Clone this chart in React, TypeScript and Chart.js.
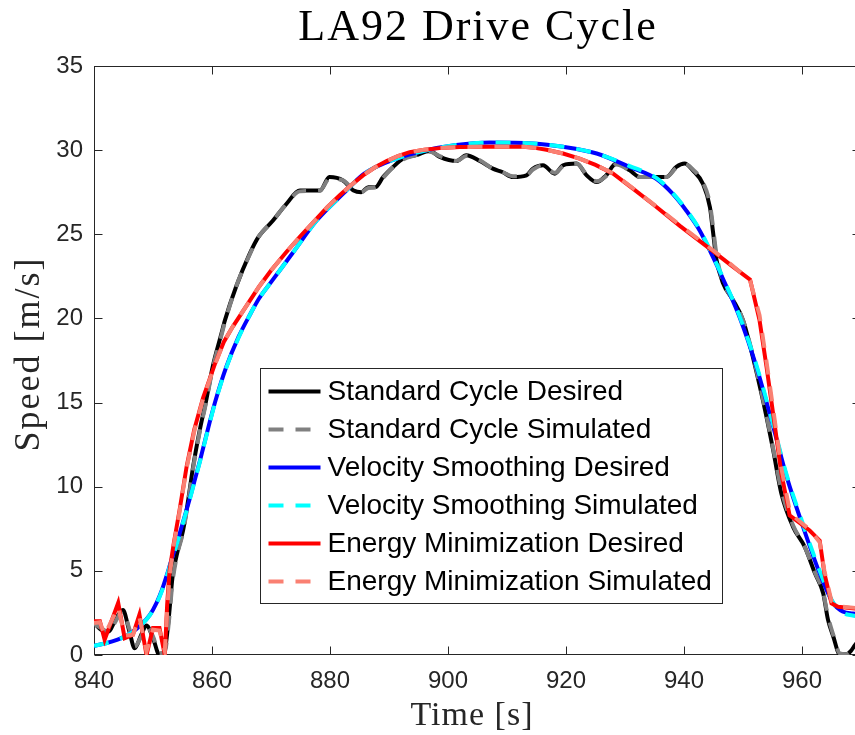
import React, { useEffect, useRef } from 'react';
import { Chart, registerables } from 'chart.js';

Chart.register(...registerables);

const titleText = 'LA92 Drive Cycle';
const xLabel = 'Time [s]';
const yLabel = 'Speed [m/s]';
const xTicks = [840, 860, 880, 900, 920, 940, 960];
const yTicks = [0, 5, 10, 15, 20, 25, 30, 35];
const seriesLabels = [
  'Standard Cycle Desired',
  'Standard Cycle Simulated',
  'Velocity Smoothing Desired',
  'Velocity Smoothing Simulated',
  'Energy Minimization Desired',
  'Energy Minimization Simulated',
];

const stdTime = [
  840, 841.2, 842.5, 843.5, 844.9, 846, 846.9, 848, 848.9, 850, 851.1, 852, 852.7, 853.3, 854.2, 855.1,
  856, 856.8, 858, 859, 860.1, 861.6, 862.2, 864.1, 866.4, 867.8, 870.3, 872.6, 874.9, 878.3, 879.9,
  882.2, 884, 885.3, 886.5, 887.7, 889, 890.7, 892.4, 894.6, 896.9, 898.6, 901.4, 903.1, 905.4, 907.6,
  909.2, 911, 913.3, 914.4, 916.1, 918.1, 919.5, 921.8, 923.5, 925.2, 926.8, 928.5, 930.8, 932.5, 935.3,
  937, 938.7, 940.1, 941.5, 943.2, 944.4, 944.9, 945.5, 946.6, 948.3, 950, 951.4, 953.4, 955.1, 956.5,
  958.5, 960.5, 962.2, 963.6, 964.4, 965.3, 966.4, 967.5, 968.3, 969, 970,
];
const stdDesired = [
  1.9, 1.5, 1.4, 2.0, 2.67, 1.4, 0.4, 1.2, 1.75, 1.0, 0.0, 0.3, 2.3, 4.6, 6.2, 7.4,
  9.3, 11.2, 13.5, 15.1, 17.1, 19.1, 19.9, 21.9, 23.85, 24.8, 25.8, 26.8, 27.6, 27.6, 28.4,
  28.2, 27.6, 27.5, 27.8, 27.8, 28.4, 29.0, 29.5, 29.7, 29.95, 29.6, 29.35, 29.7, 29.35, 28.9,
  28.7, 28.4, 28.5, 28.9, 29.1, 28.6, 29.1, 29.2, 28.5, 28.1, 28.5, 29.2, 28.8, 28.4, 28.4,
  28.4, 29.0, 29.2, 28.8, 28.0, 26.6, 25.2, 23.5, 22.1, 21.1, 19.9, 18.1, 15.1, 12.2, 9.6,
  7.6, 6.4, 4.85, 3.66, 2.1, 1.1, 0.05, 0.05, 0.25, 0.6, 1.0,
];
const stdSimulated = [
  1.85, 1.6, 1.35, 1.9, 2.6, 1.55, 0.5, 1.1, 1.7, 1.1, 0.1, 0.2, 2.0, 4.3, 6.1, 7.3,
  9.2, 11.1, 13.4, 15.0, 17.0, 19.0, 19.8, 21.9, 23.8, 24.8, 25.8, 26.8, 27.55, 27.6, 28.3,
  28.2, 27.65, 27.5, 27.75, 27.8, 28.35, 29.0, 29.45, 29.7, 29.9, 29.65, 29.35, 29.65, 29.4, 28.9,
  28.7, 28.45, 28.5, 28.85, 29.1, 28.65, 29.05, 29.2, 28.55, 28.15, 28.45, 29.15, 28.8, 28.4, 28.4,
  28.4, 28.95, 29.2, 28.85, 28.1, 26.8, 25.5, 23.8, 22.2, 21.1, 19.9, 18.2, 15.2, 12.3, 9.8,
  7.7, 6.4, 4.9, 3.7, 2.3, 1.2, 0.1, 0.05, 0.25, 0.55, 0.95,
];

const vsTime = [
  840, 842, 844, 846, 848, 849.5, 850.6, 851.5, 852.3, 853, 854, 855, 856, 857, 858, 859, 860.5,
  862.4, 864.5, 866.4, 868, 870.1, 873.7, 877.7, 882.2, 885.8, 891.3, 895.8, 901.4, 907, 914.4,
  919.5, 925.2, 930.8, 935.3, 938.1, 940.4, 942.7, 944.9, 947.2, 949.4, 952.3, 955.1, 957.4, 960.2,
  963, 965.3, 967, 968.6, 970,
];
const vsDesired = [
  0.55, 0.7, 0.92, 1.25, 1.8, 2.4, 3.1, 3.85, 4.7, 5.5, 6.6, 7.8, 9.0, 10.3, 11.6, 13.0, 15.0,
  17.1, 18.9, 20.2, 21.2, 22.2, 23.9, 25.8, 27.4, 28.6, 29.5, 29.95, 30.3, 30.45, 30.4,
  30.2, 29.8, 29.0, 28.3, 27.4, 26.4, 25.2, 23.65, 21.9, 20.1, 17.1, 13.6, 10.6, 7.6,
  4.85, 3.07, 2.57, 2.47, 2.42,
];
const vsSimulated = [
  0.55, 0.7, 0.9, 1.25, 1.78, 2.38, 3.05, 3.8, 4.65, 5.45, 6.55, 7.75, 8.95, 10.25, 11.55, 12.95, 14.95,
  17.05, 18.85, 20.2, 21.2, 22.2, 23.9, 25.8, 27.4, 28.6, 29.5, 29.95, 30.3, 30.45, 30.4,
  30.2, 29.8, 29.05, 28.35, 27.45, 26.45, 25.25, 23.7, 21.95, 20.15, 17.2, 13.7, 10.7, 7.75,
  5.0, 3.1, 2.5, 2.35, 2.25,
];

const emTime = [
  840, 841, 841.8, 844.1, 845.2, 846.6, 847.7, 848.9, 850, 851.1,
  852, 852.4, 852.8, 853.5, 854.5, 855.7, 857, 858.5, 860.5, 862,
  863.5, 865, 866.5, 868, 870, 872.5, 875, 877, 879.5, 881.6,
  883.5, 885.6, 887.5, 889.6, 891.5, 893.5, 896, 898.6, 902, 907,
  912.8, 915, 916.7, 919.5, 922.3, 925, 928, 931.4, 934.7, 939.3,
  944.9, 948, 951.2, 952.8, 954, 955.4, 956.5, 957.9, 959.05, 961.3,
  963, 963.8, 965, 966.1, 969, 970,
];
const emDesired = [
  2.0, 2.0, 0.9, 3.1, 1.0, 1.2, 2.4, 0.0, 1.6, 1.6,
  0.0, 3.0, 5.0, 6.6, 8.6, 11.2, 13.4, 15.3, 17.3, 18.6,
  19.5, 20.3, 21.1, 21.9, 22.85, 23.9, 24.9, 25.65, 26.6, 27.3,
  27.9, 28.5, 28.95, 29.35, 29.65, 29.88, 30.03, 30.12, 30.18, 30.2,
  30.2, 30.12, 30.02, 29.8, 29.5, 29.12, 28.6, 27.7, 26.8, 25.5,
  24.0, 23.15, 22.3, 19.9, 17.1, 13.6, 10.8, 8.3, 8.0, 7.4,
  6.8, 4.85, 3.07, 2.87, 2.77, 2.75,
];
const emSimulated = [
  1.9, 1.95, 1.2, 2.85, 1.15, 1.2, 2.25, 0.2, 1.5, 1.45,
  0.25, 2.6, 4.7, 6.5, 8.5, 11.1, 13.3, 15.25, 17.25, 18.6,
  19.5, 20.3, 21.1, 21.9, 22.85, 23.9, 24.9, 25.65, 26.6, 27.3,
  27.9, 28.5, 28.95, 29.35, 29.65, 29.88, 30.03, 30.12, 30.18, 30.2,
  30.2, 30.12, 30.02, 29.8, 29.5, 29.12, 28.62, 27.72, 26.82, 25.55,
  24.05, 23.2, 22.25, 20.2, 17.4, 13.9, 11.1, 8.6, 8.1, 7.45,
  6.7, 5.0, 3.2, 2.9, 2.8, 2.75,
];

const seriesColors = ['#000000', '#808080', '#0000ff', '#00ffff', '#ff0000', '#fa8072'];
const DASH = [15, 12];
const SANS = '"Liberation Sans", Arial, Helvetica, sans-serif';
const SERIF = '"Liberation Serif", "Times New Roman", serif';
const AXIS_COLOR = '#262626';

const pts = (t: number[], v: number[]) => t.map((x, i) => ({ x, y: v[i] }));

const framePlugin = {
  id: 'frame',
  beforeDatasetsDraw(chart: any) {
    const { ctx, chartArea: ca, scales } = chart;
    ctx.save();
    ctx.strokeStyle = AXIS_COLOR;
    ctx.lineWidth = 1;
    const l = Math.round(ca.left) + 0.5;
    const r = Math.round(ca.right) - 0.5;
    const t = Math.round(ca.top) + 0.5;
    const b = Math.round(ca.bottom) - 0.5;
    ctx.strokeRect(l, t, r - l, b - t);
    const TL = 8;
    ctx.beginPath();
    xTicks.forEach((v) => {
      const px = Math.round(scales.x.getPixelForValue(v)) + 0.5;
      ctx.moveTo(px, b);
      ctx.lineTo(px, b - TL);
      ctx.moveTo(px, t);
      ctx.lineTo(px, t + TL);
    });
    yTicks.forEach((v) => {
      const py = Math.round(scales.y.getPixelForValue(v)) + 0.5;
      ctx.moveTo(l, py);
      ctx.lineTo(l + TL, py);
      ctx.moveTo(r, py);
      ctx.lineTo(r - TL, py);
    });
    ctx.stroke();
    ctx.restore();
  },
};

const textPlugin = {
  id: 'serifText',
  afterDraw(chart: any) {
    const { ctx } = chart;
    ctx.save();
    ctx.fillStyle = '#000000';
    ctx.textAlign = 'center';
    ctx.textBaseline = 'middle';
    ctx.font = `44px ${SERIF}`;
    (ctx as any).letterSpacing = '2px';
    ctx.fillText(titleText, 478, 28);
    ctx.fillStyle = AXIS_COLOR;
    ctx.font = `34px ${SERIF}`;
    (ctx as any).letterSpacing = '1px';
    ctx.fillText(xLabel, 472, 716);
    ctx.translate(30, 354);
    ctx.rotate(-Math.PI / 2);
    ctx.font = `36px ${SERIF}`;
    (ctx as any).letterSpacing = '2px';
    ctx.fillText(yLabel, 0, 0);
    ctx.restore();
  },
};

const legendPlugin = {
  id: 'boxLegend',
  afterDraw(chart: any) {
    const { ctx, chartArea: ca } = chart;
    const x0 = Math.round(ca.left + 166) + 0.5;
    const y0 = Math.round(ca.top + 302) + 0.5;
    const w = 462;
    const h = 235;
    ctx.save();
    ctx.fillStyle = '#ffffff';
    ctx.fillRect(x0, y0, w, h);
    ctx.strokeStyle = AXIS_COLOR;
    ctx.lineWidth = 1;
    ctx.strokeRect(x0, y0, w, h);
    chart.data.datasets.forEach((ds: any, i: number) => {
      const cy = y0 + 23 + i * 38;
      ctx.beginPath();
      ctx.setLineDash(ds.borderDash || []);
      ctx.strokeStyle = ds.borderColor;
      ctx.lineWidth = ds.borderWidth;
      ctx.moveTo(x0 + 8, cy);
      ctx.lineTo(x0 + 60, cy);
      ctx.stroke();
      ctx.setLineDash([]);
      ctx.fillStyle = '#000000';
      ctx.font = `28px ${SANS}`;
      ctx.textAlign = 'left';
      ctx.textBaseline = 'middle';
      ctx.fillText(ds.label, x0 + 67, cy + 1);
    });
    ctx.restore();
  },
};

export default function App() {
  const ref = useRef<HTMLCanvasElement>(null);
  useEffect(() => {
    if (!ref.current) return;
    const series = [
      pts(stdTime, stdDesired),
      pts(stdTime, stdSimulated),
      pts(vsTime, vsDesired),
      pts(vsTime, vsSimulated),
      pts(emTime, emDesired),
      pts(emTime, emSimulated),
    ];
    const datasets = series.map((data, i) => ({
      label: seriesLabels[i],
      data,
      borderColor: seriesColors[i],
      backgroundColor: seriesColors[i],
      borderWidth: 4,
      borderDash: i % 2 === 1 ? DASH : [],
      pointRadius: 0,
      fill: false,
      cubicInterpolationMode: (i >= 4 ? 'default' : 'monotone') as any,
      tension: 0,
      order: 6 - i,
    }));
    const tickFont = { family: SANS, size: 24 };
    const chart = new Chart(ref.current, {
      type: 'line',
      data: { datasets },
      options: {
        animation: false,
        responsive: false,
        devicePixelRatio: 1,
        layout: { padding: { top: 66, right: 9, left: 0, bottom: 0 } },
        plugins: {
          legend: { display: false },
          tooltip: { enabled: false },
          title: { display: false },
        },
        scales: {
          x: {
            type: 'linear',
            min: 840,
            max: 970,
            afterBuildTicks: (s: any) => {
              s.ticks = xTicks.map((value) => ({ value }));
            },
            afterFit: (s: any) => {
              s.height = 80;
            },
            ticks: { font: tickFont, color: AXIS_COLOR, padding: 12, maxRotation: 0, autoSkip: false },
            grid: { display: false, drawTicks: false },
            border: { display: false },
          },
          y: {
            type: 'linear',
            min: 0,
            max: 35,
            afterBuildTicks: (s: any) => {
              s.ticks = yTicks.map((value) => ({ value }));
            },
            afterFit: (s: any) => {
              s.width = 94;
            },
            ticks: { font: tickFont, color: AXIS_COLOR, padding: 11, autoSkip: false },
            grid: { display: false, drawTicks: false },
            border: { display: false },
          },
        },
      },
      plugins: [framePlugin, textPlugin, legendPlugin],
    });
    return () => chart.destroy();
  }, []);
  return (
    <div
      style={{
        position: 'absolute',
        left: 0,
        top: 0,
        width: 855,
        height: 735,
        overflow: 'hidden',
        background: '#ffffff',
      }}
    >
      <canvas ref={ref} width={870} height={735} style={{ display: 'block' }} />
    </div>
  );
}
